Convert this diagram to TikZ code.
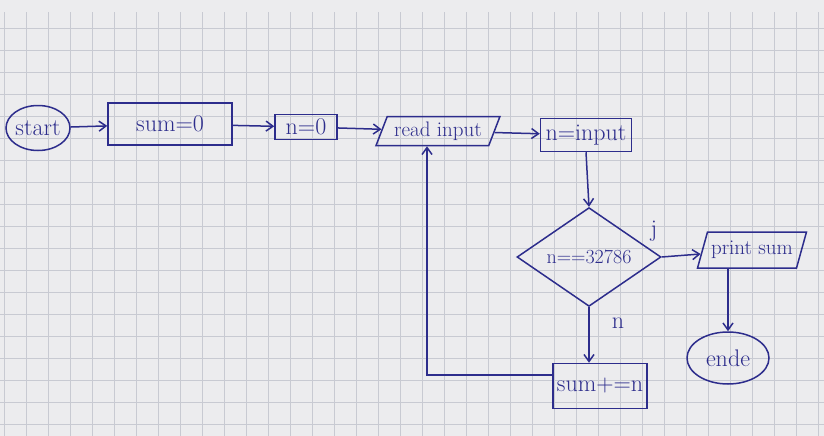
\documentclass[tikz,border=0pt]{standalone}
\usetikzlibrary{shapes.geometric,arrows.meta}
\definecolor{ink}{RGB}{45,45,140}
\definecolor{paper}{RGB}{236,236,238}
\definecolor{gridc}{RGB}{200,202,210}
\begin{document}
\begin{tikzpicture}[x=1pt,y=-1pt,
  every node/.style={text=ink,font=\fontsize{24}{26}\selectfont},
  shp/.style={draw=ink,line width=1.5pt,inner sep=1pt},
  procbox/.style={shp,rectangle},
  termbox/.style={shp,ellipse,inner sep=0pt},
  iobox/.style={shp,trapezium,trapezium left angle=65,trapezium right angle=115,inner xsep=0pt,trapezium stretches=true,font=\fontsize{21}{23}\selectfont},
  decbox/.style={shp,diamond,inner sep=0pt,font=\fontsize{20}{22}\selectfont},
  conn/.style={draw=ink,line width=1.5pt,-{Straight Barb[length=7pt,width=10pt]}},
  lbl/.style={text=ink}]
\useasboundingbox (0,0) rectangle (824,436);
\fill[paper] (0,0) rectangle (824,436);
\draw[gridc,line width=0.6pt,step=22pt,shift={(4pt,-6pt)}] (-4,6) grid (824,436);
\node[termbox,minimum width=64pt,minimum height=45pt] (start) at (38,128) {start};
\node[procbox,minimum width=124pt,minimum height=42pt] (sum0) at (170,124) {sum=0};
\node[procbox,minimum width=62pt,minimum height=25pt] (n0) at (306,127) {n=0};
\node[iobox,minimum width=124pt,minimum height=29pt] (readin) at (438,131) {read input};
\node[procbox,minimum width=91pt,minimum height=33pt] (ninput) at (586,135) {n=input};
\node[decbox,minimum width=144pt,minimum height=82pt] (dia) at (589,257) {n==32786};
\node[iobox,minimum width=110pt,minimum height=36pt] (prints) at (752,250) {print sum};
\node[termbox,minimum width=82pt,minimum height=52pt] (ende) at (728,358) {ende};
\node[procbox,minimum width=94pt,minimum height=45pt] (sumplus) at (600,386) {sum+=n};
\node[lbl] (ja) at (654,231) {j};
\node[lbl] (nein) at (618,323) {n};
\draw[conn] (start) -- (sum0);
\draw[conn] (sum0) -- (n0);
\draw[conn] (n0) -- (readin);
\draw[conn] (readin) -- (ninput);
\draw[conn] (ninput.south) -- (dia.north);
\draw[conn] (dia.east) -- (prints);
\draw[conn] (dia.south) -- (dia.south |- sumplus.north);
\draw[conn] (prints.south -| ende.north) -- (ende.north);
\draw[conn] ([yshift=11pt]sumplus.west) -| ([xshift=-11pt]readin.south);
\end{tikzpicture}
\end{document}
